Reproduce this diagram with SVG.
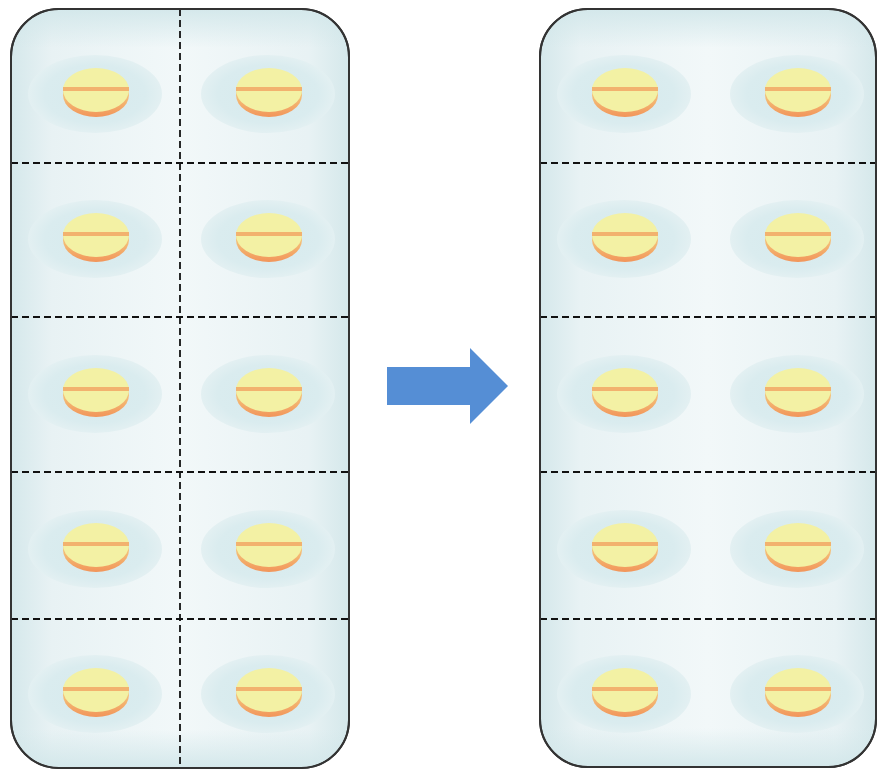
<svg xmlns="http://www.w3.org/2000/svg" xmlns:xlink="http://www.w3.org/1999/xlink" width="877" height="769" viewBox="0 0 877 769">
  <style>
    .card { stroke: #333; stroke-width: 2; }
    .perf { stroke: #111; stroke-width: 1.8; stroke-dasharray: 7 4; fill: none; }
    .halo { fill: url(#haloGrad); }
  </style>
  <defs>
    <linearGradient id="cardH" x1="0" y1="0" x2="1" y2="0">
      <stop offset="0" stop-color="#d5e8eb"/>
      <stop offset="0.12" stop-color="#e8f2f4"/>
      <stop offset="0.5" stop-color="#f2f8f9"/>
      <stop offset="0.88" stop-color="#e8f2f4"/>
      <stop offset="1" stop-color="#d5e8eb"/>
    </linearGradient>
    <linearGradient id="cardV" x1="0" y1="0" x2="0" y2="1">
      <stop offset="0" stop-color="#d2e7ea" stop-opacity="0.9"/>
      <stop offset="0.05" stop-color="#d2e7ea" stop-opacity="0"/>
      <stop offset="0.95" stop-color="#d2e7ea" stop-opacity="0"/>
      <stop offset="1" stop-color="#d2e7ea" stop-opacity="0.9"/>
    </linearGradient>
    <radialGradient id="haloGrad" cx="0.5" cy="0.5" r="0.5">
      <stop offset="0" stop-color="#d6eaed"/>
      <stop offset="0.75" stop-color="#daecef"/>
      <stop offset="1" stop-color="#e3f0f2"/>
    </radialGradient>
    <linearGradient id="tabletSide" x1="0" y1="0" x2="0" y2="1">
      <stop offset="0.5" stop-color="#f4c27a"/>
      <stop offset="1" stop-color="#f2955a"/>
    </linearGradient>
    <!-- one blister pocket with its tablet, centred on 0,0 -->
    <g id="pocket">
      <ellipse class="halo" cx="-1" cy="4" rx="67" ry="39"/>
      <ellipse cx="0" cy="5" rx="33" ry="22" fill="url(#tabletSide)"/>
      <ellipse cx="0" cy="0" rx="33" ry="22" fill="#f3f1a4"/>
      <rect x="-33" y="-3" width="66" height="4" fill="#f2b26e"/>
    </g>
  </defs>

  <!-- left blister card: perforated in both directions -->
  <g id="card-left">
    <rect class="card" x="11" y="9" width="338" height="759" rx="48" fill="url(#cardH)"/>
    <rect x="12" y="10" width="336" height="757" rx="47" fill="url(#cardV)"/>
    <use xlink:href="#pocket" x="96" y="90"/>
    <use xlink:href="#pocket" x="269" y="90"/>
    <use xlink:href="#pocket" x="96" y="235"/>
    <use xlink:href="#pocket" x="269" y="235"/>
    <use xlink:href="#pocket" x="96" y="390"/>
    <use xlink:href="#pocket" x="269" y="390"/>
    <use xlink:href="#pocket" x="96" y="545"/>
    <use xlink:href="#pocket" x="269" y="545"/>
    <use xlink:href="#pocket" x="96" y="690"/>
    <use xlink:href="#pocket" x="269" y="690"/>
    <path class="perf" d="M11 163H349M11 317H349M11 472H349M11 619H349M180 9V768"/>
    <rect class="card" x="11" y="9" width="338" height="759" rx="48" fill="none"/>
  </g>

  <!-- right blister card: horizontal perforations only -->
  <g id="card-right">
    <rect class="card" x="540" y="9" width="336" height="758" rx="48" fill="url(#cardH)"/>
    <rect x="541" y="10" width="334" height="756" rx="47" fill="url(#cardV)"/>
    <use xlink:href="#pocket" x="625" y="90"/>
    <use xlink:href="#pocket" x="798" y="90"/>
    <use xlink:href="#pocket" x="625" y="235"/>
    <use xlink:href="#pocket" x="798" y="235"/>
    <use xlink:href="#pocket" x="625" y="390"/>
    <use xlink:href="#pocket" x="798" y="390"/>
    <use xlink:href="#pocket" x="625" y="545"/>
    <use xlink:href="#pocket" x="798" y="545"/>
    <use xlink:href="#pocket" x="625" y="690"/>
    <use xlink:href="#pocket" x="798" y="690"/>
    <path class="perf" d="M540 163H876M540 317H876M540 472H876M540 619H876"/>
    <rect class="card" x="540" y="9" width="336" height="758" rx="48" fill="none"/>
  </g>

  <g id="connectors">
    <polygon points="387,367 470,367 470,348 508,386 470,424 470,405 387,405" fill="#558ed5"/>
  </g>
</svg>
